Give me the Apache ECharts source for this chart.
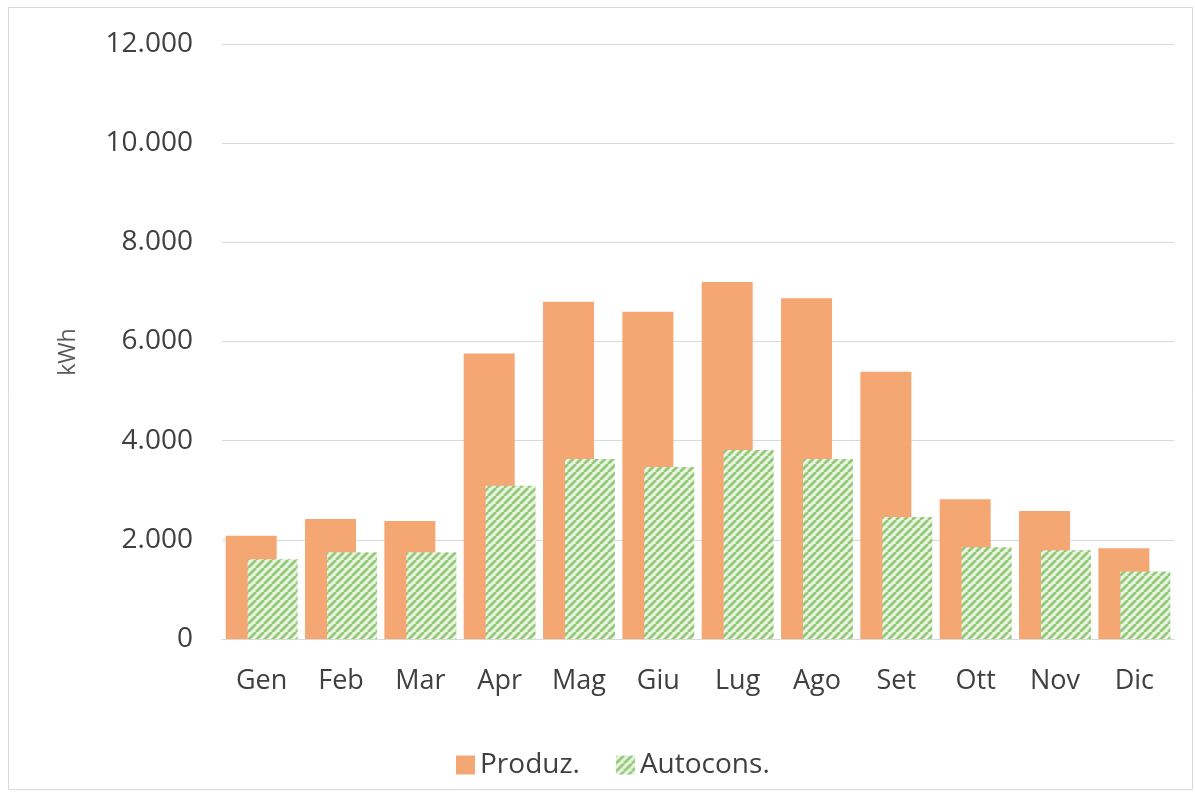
<!DOCTYPE html>
<html>
<head>
<meta charset="utf-8">
<script src="https://cdn.jsdelivr.net/npm/echarts@6/dist/echarts.min.js"></script>
<style>
  html, body { margin: 0; padding: 0; background: #ffffff; }
  #chart { width: 1195px; height: 793px; }
</style>
</head>
<body>
<div id="chart"></div>
<script>
// Monthly energy: production vs. self-consumption (kWh)
const months = ['Gen', 'Feb', 'Mar', 'Apr', 'Mag', 'Giu', 'Lug', 'Ago', 'Set', 'Ott', 'Nov', 'Dic'];
const produzione = [2080, 2420, 2380, 5760, 6800, 6600, 7200, 6870, 5390, 2820, 2580, 1830];
const autoconsumo = [1610, 1750, 1750, 3090, 3630, 3470, 3810, 3630, 2460, 1850, 1790, 1360];
const seriesNames = ['Produz.', 'Autocons.'];
const yAxisTitle = 'kWh';

// Diagonal hatch fill for the self-consumption bars
function hatchPattern() {
  const size = 8;
  const c = document.createElement('canvas');
  c.width = size; c.height = size;
  const ctx = c.getContext('2d');
  ctx.fillStyle = '#eaf5e1';
  ctx.fillRect(0, 0, size, size);
  ctx.strokeStyle = '#94c97b';
  ctx.lineWidth = 2.8;
  ctx.beginPath();
  for (let k = -size; k <= size * 2; k += size) {
    ctx.moveTo(k, size);
    ctx.lineTo(k + size, 0);
  }
  ctx.stroke();
  return { image: c, repeat: 'repeat' };
}

// Italian thousands separator: 12000 -> "12.000"
function fmtThousands(v) {
  return String(v).replace(/\B(?=(\d{3})+(?!\d))/g, '.');
}

const textColor = '#404040';
const font = '"Open Sans", "Noto Sans", sans-serif';

const chart = echarts.init(document.getElementById('chart'), null, { renderer: 'canvas' });
chart.setOption({
  animation: false,
  backgroundColor: '#ffffff',
  textStyle: { fontFamily: font },
  graphic: [
    {
      type: 'rect',
      shape: { x: 8.5, y: 7.5, width: 1184, height: 782 },
      style: { fill: 'none', stroke: '#d9d9d9', lineWidth: 1 },
      silent: true
    },
    {
      type: 'text',
      x: 68,
      y: 352,
      rotation: Math.PI / 2,
      style: {
        text: yAxisTitle,
        fill: '#595959',
        font: '23px ' + font,
        align: 'center',
        verticalAlign: 'middle'
      },
      silent: true
    }
  ],
  grid: { left: 222, right: 21, top: 44, bottom: 154 },
  legend: {
    left: 451,
    top: 746,
    icon: 'rect',
    itemWidth: 19,
    itemHeight: 19,
    itemGap: 36,
    itemTextGap: 8,
    textStyle: { color: textColor, fontSize: 28, fontFamily: font },
    data: seriesNames
  },
  xAxis: {
    type: 'category',
    data: months,
    axisLine: { lineStyle: { color: '#d9d9d9', width: 1 } },
    axisTick: { show: false },
    axisLabel: { color: textColor, fontSize: 27, margin: 29, fontFamily: font }
  },
  yAxis: {
    type: 'value',
    min: 0,
    max: 12000,
    interval: 2000,
    axisLine: { show: false },
    axisTick: { show: false },
    splitLine: { lineStyle: { color: '#d9d9d9', width: 1 } },
    axisLabel: {
      color: textColor,
      fontSize: 28,
      margin: 29,
      fontFamily: font,
      formatter: fmtThousands
    }
  },
  series: [
    {
      name: seriesNames[0],
      type: 'bar',
      data: produzione,
      barWidth: 51,
      barGap: '-57%',
      itemStyle: { color: '#f4a773' }
    },
    {
      name: seriesNames[1],
      type: 'bar',
      data: autoconsumo,
      barWidth: 50,
      itemStyle: { color: hatchPattern() }
    }
  ]
});
</script>
</body>
</html>
